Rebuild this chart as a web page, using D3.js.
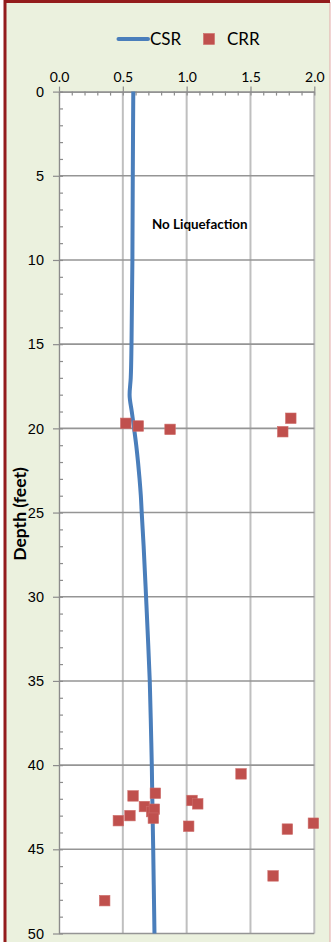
<!DOCTYPE html>
<html>
<head>
<meta charset="utf-8">
<script src="https://cdn.jsdelivr.net/npm/d3@7"></script>
<style>
  body { margin: 0; background: #ffffff; }
  svg { display: block; }
</style>
</head>
<body>
<svg id="chart" width="333" height="942"></svg>
<script>
// Ratio axis (top) and depth axis (left)
const xTickValues = [0, 0.5, 1.0, 1.5, 2.0];
const yTickValues = [0, 5, 10, 15, 20, 25, 30, 35, 40, 45, 50];

// CSR curve: depth (ft) and cyclic stress ratio
const csrDepth = [0, 5, 10, 15, 17, 18, 19, 20, 21, 22, 23, 24, 25, 27, 30, 32, 35, 38, 40, 42, 45, 48, 50];
const csrValue = [0.582, 0.578, 0.575, 0.568, 0.562, 0.553, 0.570, 0.588, 0.605, 0.619, 0.631, 0.641, 0.648, 0.663, 0.682, 0.694, 0.711, 0.721, 0.727, 0.731, 0.738, 0.744, 0.748];

// CRR points: depth (ft) and cyclic resistance ratio
const crrDepth = [19.7, 19.86, 20.06, 19.4, 20.2, 41.83, 41.67, 42.46, 42.76, 42.62, 43.15, 43.0, 43.3, 42.1, 42.3, 43.63, 40.52, 43.8, 43.45, 46.58, 48.05];
const crrValue = [0.523, 0.621, 0.870, 1.816, 1.753, 0.580, 0.755, 0.669, 0.726, 0.747, 0.739, 0.556, 0.465, 1.042, 1.087, 1.016, 1.426, 1.789, 1.993, 1.677, 0.358];

const svg = d3.select("#chart");
const W = 333, H = 942;
const plot = { left: 59, right: 314.3, top: 91.6, bottom: 933.5 };

const x = d3.scaleLinear().domain([0, 2]).range([plot.left, plot.right]);
const y = d3.scaleLinear().domain([0, 50]).range([plot.top, plot.bottom]);

// Chart frame
svg.append("rect").attr("x", 5).attr("y", 1.5).attr("width", 325).attr("height", H + 10)
  .attr("fill", "#EBF1DE").attr("stroke", "none");
svg.append("line").attr("x1", 330).attr("x2", 330).attr("y1", 2).attr("y2", H)
  .attr("stroke", "#E3A9A8").attr("stroke-width", 1);
svg.append("line").attr("x1", 5).attr("x2", 330).attr("y1", 1.5).attr("y2", 1.5)
  .attr("stroke", "#931C1C").attr("stroke-width", 3);
svg.append("line").attr("x1", 5).attr("x2", 5).attr("y1", 0).attr("y2", H)
  .attr("stroke", "#931C1C").attr("stroke-width", 3);

// Plot area
svg.append("rect").attr("x", plot.left).attr("y", plot.top)
  .attr("width", plot.right - plot.left).attr("height", plot.bottom - plot.top)
  .attr("fill", "#ffffff");

// Vertical gridlines
svg.append("g").selectAll("line").data(xTickValues.filter(d => d > 0)).join("line")
  .attr("x1", d => x(d)).attr("x2", d => x(d))
  .attr("y1", plot.top).attr("y2", plot.bottom)
  .attr("stroke", "#BFBFBF").attr("stroke-width", 2);

// Horizontal gridlines
svg.append("g").selectAll("line").data(yTickValues.filter(d => d > 0)).join("line")
  .attr("x1", plot.left).attr("x2", plot.right)
  .attr("y1", d => y(d)).attr("y2", d => y(d))
  .attr("stroke", "#959595").attr("stroke-width", 1.6);

// Top axis: outward major ticks and inward minor ticks
const axisColor = "#8C8C8C";
const topMajor = svg.append("g").attr("transform", `translate(0,${plot.top})`)
  .call(d3.axisTop(x).tickValues(xTickValues).tickSize(5).tickSizeOuter(0).tickFormat(d3.format(".1f")));
const topMinor = svg.append("g").attr("transform", `translate(0,${plot.top})`)
  .call(d3.axisTop(x).tickValues(d3.range(0, 2.0001, 0.1)).tickSize(-4).tickSizeOuter(0).tickFormat(""));

// Left axis: outward major ticks and inward minor ticks
const leftMajor = svg.append("g").attr("transform", `translate(${plot.left},0)`)
  .call(d3.axisLeft(y).tickValues(yTickValues).tickSize(6).tickSizeOuter(0).tickPadding(9));
const leftMinor = svg.append("g").attr("transform", `translate(${plot.left},0)`)
  .call(d3.axisLeft(y).tickValues(d3.range(0, 51, 1)).tickSize(-4).tickSizeOuter(0).tickFormat(""));

[topMajor, topMinor, leftMajor, leftMinor].forEach(g => {
  g.selectAll("path.domain").attr("stroke", axisColor).attr("stroke-width", 1.2);
  g.selectAll(".tick line").attr("stroke", axisColor).attr("stroke-width", 1.2);
});
topMajor.selectAll(".tick text")
  .attr("font-family", "Lato, 'Noto Sans', sans-serif").attr("font-size", 14)
  .attr("fill", "#000").attr("dy", "-0.1em");
leftMajor.selectAll(".tick text")
  .attr("font-family", "'Liberation Sans', Arial, sans-serif").attr("font-size", 14.5)
  .attr("fill", "#000");

// CSR line
const line = d3.line().x(d => x(d[1])).y(d => y(d[0])).curve(d3.curveMonotoneY);
svg.append("path")
  .datum(csrDepth.map((d, i) => [d, csrValue[i]]))
  .attr("d", line)
  .attr("fill", "none").attr("stroke", "#4A7EBB").attr("stroke-width", 4)
  .attr("stroke-linejoin", "round");

// CRR markers
const sq = 10.5;
svg.append("g").selectAll("rect").data(crrDepth.map((d, i) => [d, crrValue[i]])).join("rect")
  .attr("x", d => x(d[1]) - sq / 2).attr("y", d => y(d[0]) - sq / 2)
  .attr("width", sq).attr("height", sq)
  .attr("fill", "#C0504D").attr("stroke", "#CD6C69").attr("stroke-width", 0.6);

// Annotation
svg.append("text").attr("x", 152).attr("y", 229)
  .attr("font-family", "Lato, 'Noto Sans', sans-serif").attr("font-weight", "bold")
  .attr("font-size", 13.4).attr("fill", "#000").text("No Liquefaction");

// Axis title
svg.append("text")
  .attr("transform", `translate(26,514) rotate(-90)`)
  .attr("text-anchor", "middle")
  .attr("font-family", "Lato, 'Noto Sans', sans-serif").attr("font-weight", "bold")
  .attr("font-size", 17.5).attr("fill", "#000").text("Depth (feet)");

// Legend
const legend = svg.append("g");
legend.append("line").attr("x1", 118.5).attr("x2", 148).attr("y1", 39).attr("y2", 39)
  .attr("stroke", "#4A7EBB").attr("stroke-width", 4).attr("stroke-linecap", "round");
legend.append("text").attr("x", 150).attr("y", 45)
  .attr("font-family", "Lato, 'Noto Sans', sans-serif").attr("font-size", 17)
  .attr("fill", "#000").text("CSR");
legend.append("rect").attr("x", 203.5).attr("y", 33.5).attr("width", 11).attr("height", 11)
  .attr("fill", "#C0504D").attr("stroke", "#CD6C69").attr("stroke-width", 0.6);
legend.append("text").attr("x", 227).attr("y", 45)
  .attr("font-family", "Lato, 'Noto Sans', sans-serif").attr("font-size", 17)
  .attr("fill", "#000").text("CRR");
</script>
</body>
</html>
